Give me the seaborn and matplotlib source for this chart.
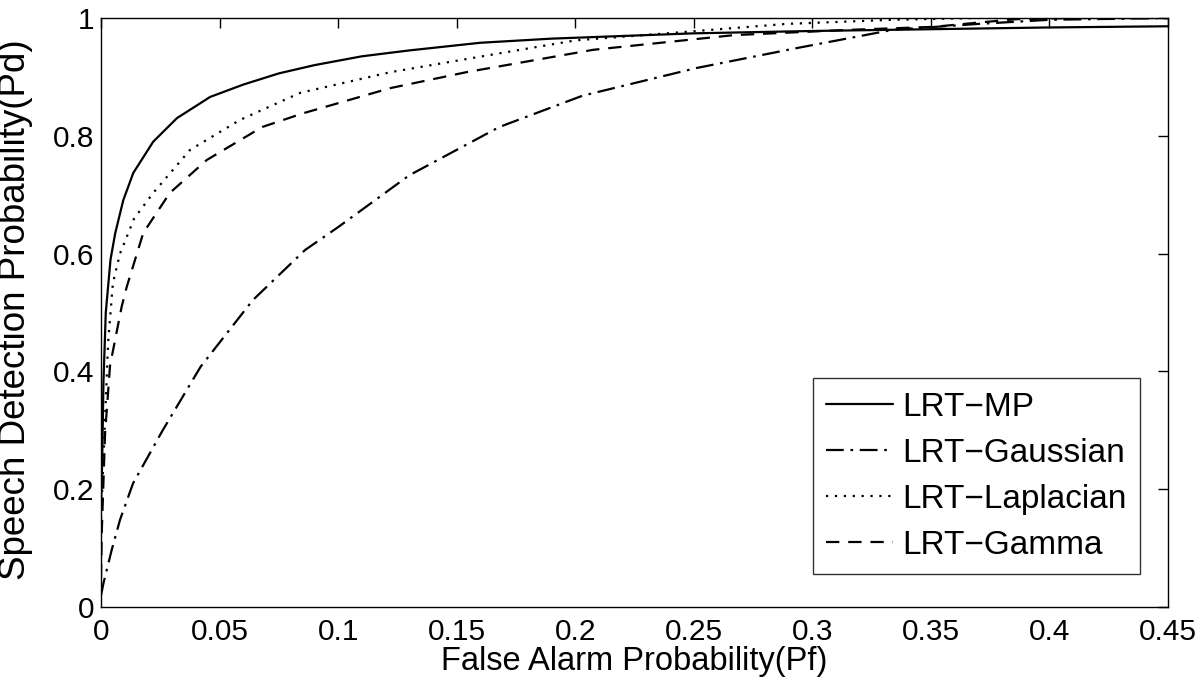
import matplotlib
matplotlib.use("Agg")
import matplotlib.pyplot as plt
import seaborn as sns
import pandas as pd

# ROC curves
mp_pf = [0.0, 0.0005, 0.001, 0.002, 0.004, 0.006, 0.0094, 0.0136, 0.022, 0.032, 0.046,
         0.06, 0.075, 0.09, 0.11, 0.13, 0.16, 0.19, 0.25, 0.3, 0.35, 0.4, 0.45]
mp_pd = [0.17, 0.25, 0.38, 0.5, 0.59, 0.635, 0.691, 0.737, 0.79, 0.83, 0.866,
         0.887, 0.906, 0.92, 0.935, 0.945, 0.958, 0.965, 0.974, 0.978, 0.981, 0.984, 0.986]

gauss_pf = [0.0, 0.001, 0.0045, 0.008, 0.0135, 0.026, 0.042, 0.064, 0.086, 0.1, 0.13,
            0.168, 0.203, 0.251, 0.2935, 0.334, 0.37, 0.4, 0.45]
gauss_pd = [0.02, 0.04, 0.097, 0.148, 0.21, 0.30, 0.408, 0.521, 0.606, 0.645, 0.733,
            0.815, 0.868, 0.915, 0.949, 0.98, 0.99, 0.997, 1.0]

lap_pf = [0.0, 0.001, 0.003, 0.005, 0.008, 0.014, 0.022, 0.0375, 0.0586, 0.084, 0.122,
          0.168, 0.2, 0.245, 0.289, 0.334, 0.37, 0.45]
lap_pd = [0.15, 0.25, 0.45, 0.55, 0.60, 0.66, 0.703, 0.776, 0.827, 0.873, 0.908,
          0.94, 0.962, 0.976, 0.99, 0.997, 1.0, 1.0]

gam_pf = [0.0, 0.0003, 0.0017, 0.0038, 0.0087, 0.0108, 0.0178, 0.029, 0.0446, 0.068, 0.085,
          0.122, 0.154, 0.2075, 0.267, 0.316, 0.351, 0.372, 0.386, 0.41, 0.45]
gam_pd = [0.05, 0.126, 0.295, 0.41, 0.51, 0.543, 0.635, 0.703, 0.759, 0.815, 0.838,
          0.881, 0.908, 0.946, 0.971, 0.98, 0.985, 0.993, 0.998, 1.0, 1.0]

labels = ["LRT\u2212MP", "LRT\u2212Gaussian", "LRT\u2212Laplacian", "LRT\u2212Gamma"]
styles = ["-", (0, (8, 3, 1.2, 3)), (0, (1, 3)), (0, (6, 4))]

sns.set_theme(style="white")
plt.rcParams["font.family"] = ["Liberation Sans", "DejaVu Sans"]
plt.rcParams["axes.unicode_minus"] = True
plt.rcParams["text.color"] = "black"
plt.rcParams["axes.labelcolor"] = "black"

fig = plt.figure(figsize=(12, 6.88), dpi=100)
ax = fig.add_axes([0.0842, 0.1177, 0.8891, 0.8561])

series = [(mp_pf, mp_pd), (gauss_pf, gauss_pd), (lap_pf, lap_pd), (gam_pf, gam_pd)]
for (px, py), lab, ls in zip(series, labels, styles):
    df = pd.DataFrame({"pf": px, "pd": py})
    sns.lineplot(data=df, x="pf", y="pd", ax=ax, color="black", linewidth=1.6,
                 linestyle=ls, label=lab, sort=False)

ax.set_xlim(0, 0.45)
ax.set_ylim(0, 1)
ax.set_xticks([0, 0.05, 0.1, 0.15, 0.2, 0.25, 0.3, 0.35, 0.4, 0.45])
ax.set_xticklabels(["0", "0.05", "0.1", "0.15", "0.2", "0.25", "0.3", "0.35", "0.4", "0.45"])
ax.set_yticks([0, 0.2, 0.4, 0.6, 0.8, 1])
ax.set_yticklabels(["0", "0.2", "0.4", "0.6", "0.8", "1"])
ax.tick_params(direction="in", length=7, width=1, top=True, right=True,
               labelsize=21.5, colors="black")
ax.tick_params(axis="x", pad=8)
ax.tick_params(axis="y", pad=5)
for sp in ax.spines.values():
    sp.set_color("black")
    sp.set_linewidth(1)

ax.set_xlabel("False Alarm Probability(Pf)", fontsize=23.5, labelpad=0)
ax.set_ylabel("Speech Detection Probability(Pd)", fontsize=26.5)
ax.yaxis.set_label_coords(-0.064, 0.505)

leg = ax.legend(loc="lower right", bbox_to_anchor=(0.974, 0.056), borderaxespad=0,
                fontsize=24, frameon=True, fancybox=False, handlelength=2.0,
                labelspacing=0.45, borderpad=0.4, handletextpad=0.3)
leg.get_frame().set_edgecolor("black")
leg.get_frame().set_linewidth(1)

plt.savefig("out.png", dpi=100)
plt.close()
